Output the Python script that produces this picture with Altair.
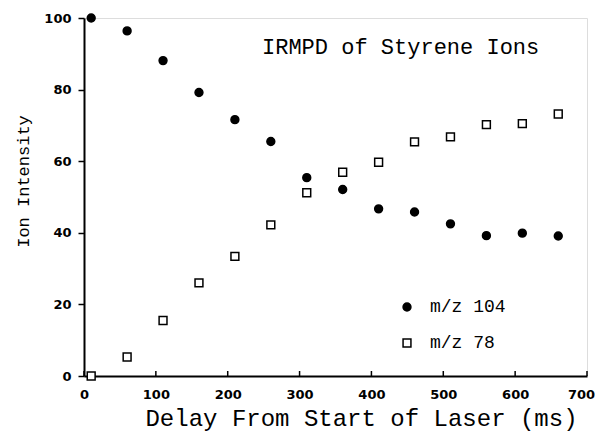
import altair as alt
import pandas as pd

# Data
delay_ms = [10, 60, 110, 160, 210, 260, 310, 360, 410, 460, 510, 560, 610, 660]
mz104 = [100.0, 96.4, 88.1, 79.2, 71.6, 65.5, 55.4, 52.1, 46.7, 45.8, 42.5, 39.2, 39.9, 39.1]
mz78 = [0.0, 5.3, 15.5, 26.0, 33.4, 42.2, 51.2, 56.9, 59.7, 65.4, 66.8, 70.2, 70.5, 73.2]
series_names = ["m/z 104", "m/z 78"]
x_ticks = [0, 100, 200, 300, 400, 500, 600, 700]
y_ticks = [0, 20, 40, 60, 80, 100]
chart_title = "IRMPD of Styrene Ions"
x_title = "Delay From Start of Laser (ms)"
y_title = "Ion Intensity"

rows = []
for d, a, b in zip(delay_ms, mz104, mz78):
    rows.append({"delay": d, "value": a, "series": series_names[0]})
    rows.append({"delay": d, "value": b, "series": series_names[1]})
df = pd.DataFrame(rows)

W, H = 503, 358

xscale = alt.Scale(domain=[0, 700], nice=False)
yscale = alt.Scale(domain=[0, 100], nice=False)

legend_cfg = dict(title=None, orient="none", legendX=314, legendY=280, padding=0,
                  labelFont="Liberation Mono", labelFontSize=18, labelColor="black",
                  symbolSize=62, symbolStrokeWidth=1.5, symbolStrokeColor="black",
                  rowPadding=18, labelOffset=14)

points = alt.Chart(df).mark_point(filled=True, stroke="black", strokeWidth=1.5, opacity=1,
                                  size=62, clip=False).encode(
    x=alt.X("delay:Q", scale=xscale, axis=alt.Axis(
        values=x_ticks, ticks=False, format="d", grid=False, labelFlush=False,
        labelFont="DejaVu Sans", labelFontWeight="bold", labelFontSize=13, labelColor="black",
        labelPadding=12, domainColor="black", domainWidth=2,
        labelOffset={"condition": {"test": "datum.value == 700", "value": -6}, "value": 0},
        title=x_title, titleFont="Liberation Mono", titleFontWeight="normal", titleFontSize=24,
        titleColor="black", titleX=277, titleY=49, titleAlign="center", titleBaseline="alphabetic")),
    y=alt.Y("value:Q", scale=yscale, axis=alt.Axis(
        values=y_ticks, tickSize=6, tickColor="black", tickWidth=1.5, grid=False, labelFlush=False,
        labelFont="DejaVu Sans", labelFontWeight="bold", labelFontSize=13, labelColor="black",
        labelPadding=7, domainColor="black", domainWidth=2,
        title=y_title, titleFont="Liberation Mono", titleFontWeight="normal", titleFontSize=17,
        titleColor="black", titleX=-61, titleY=163, titleAngle=270, titleAlign="center",
        titleBaseline="middle")),
    shape=alt.Shape("series:N", scale=alt.Scale(domain=series_names, range=["circle", "square"]),
                    legend=alt.Legend(**legend_cfg)),
    fill=alt.Fill("series:N", scale=alt.Scale(domain=series_names, range=["black", "white"]),
                  legend=alt.Legend(**legend_cfg)),
    stroke=alt.Stroke("series:N", scale=alt.Scale(domain=series_names, range=["black", "black"]),
                      legend=alt.Legend(**legend_cfg)),
)

tick_df = pd.DataFrame({"tick": x_ticks})
xticks_inside = alt.Chart(tick_df).mark_rule(color="black", strokeWidth=1.5).encode(
    x=alt.X("tick:Q", scale=xscale),
    y=alt.value(H),
    y2=alt.value(H - 5),
)

title_df = pd.DataFrame({"t": [chart_title]})
title_mark = alt.Chart(title_df).mark_text(
    align="left", baseline="alphabetic", font="Liberation Mono", fontSize=22, color="black"
).encode(x=alt.value(178), y=alt.value(36), text="t:N")

chart = alt.layer(xticks_inside, points, title_mark).properties(
    width=W, height=H,
    autosize=alt.AutoSizeParams(type="none"),
    padding={"left": 76, "top": 10, "right": 8, "bottom": 56},
).configure_view(stroke="black", strokeWidth=2).configure(background="white")

chart.save("out.html", embed_options={"renderer": "svg", "actions": False})
